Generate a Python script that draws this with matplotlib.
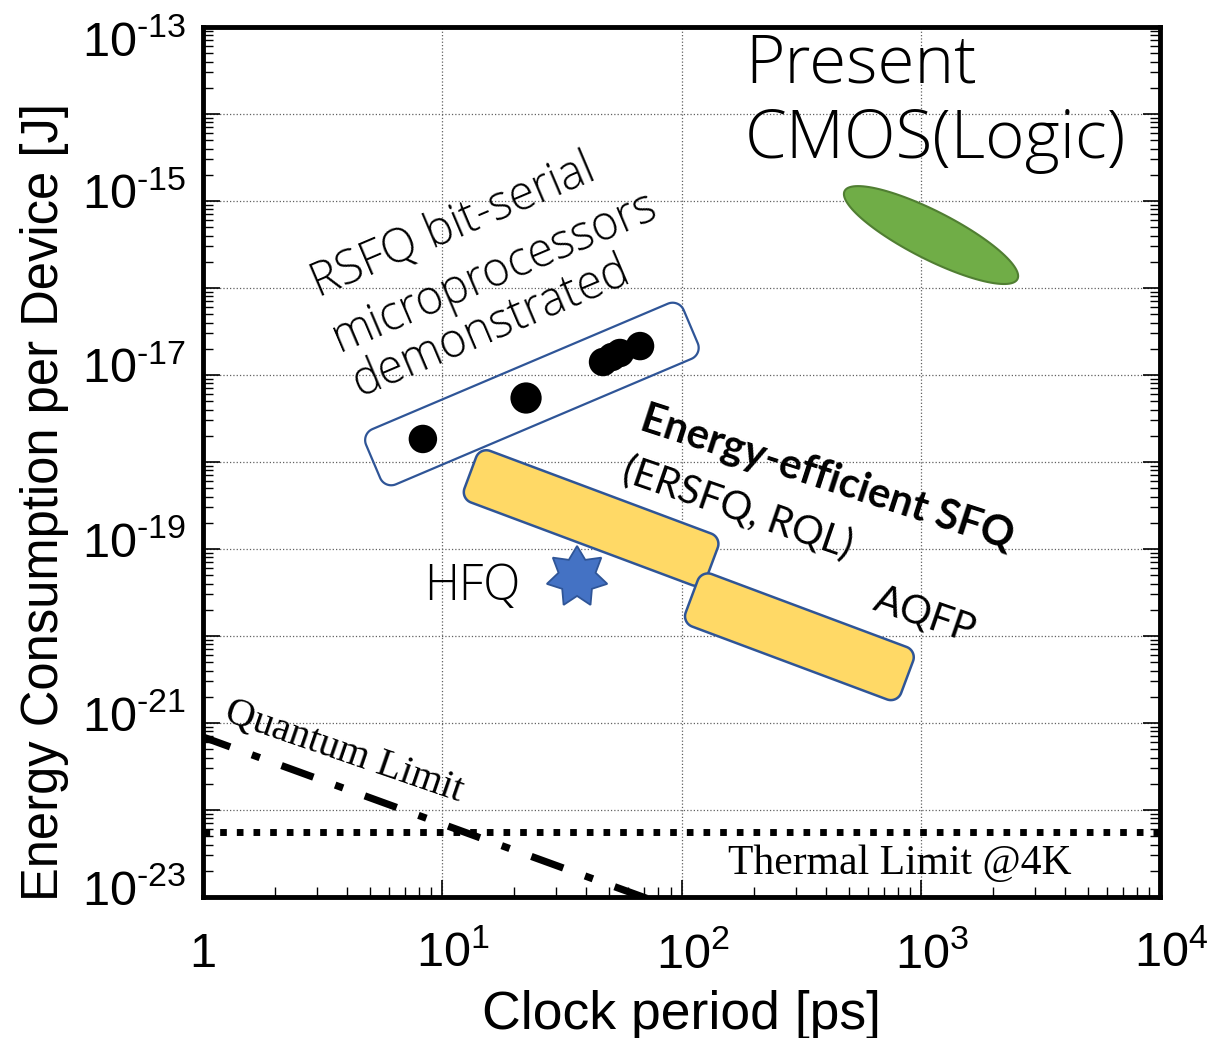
import numpy as np
import matplotlib
matplotlib.use("Agg")
import matplotlib.pyplot as plt
from matplotlib.patches import Polygon
from matplotlib.ticker import FixedLocator, LogLocator, NullFormatter, FixedFormatter
from matplotlib.transforms import ScaledTranslation

# ---------------- data ----------------
HY = "\u2010"
x_ticks = [1, 10, 100, 1000, 10000]
x_tick_labels = ["1", r"$\mathregular{10^{1}}$", r"$\mathregular{10^{2}}$",
                 r"$\mathregular{10^{3}}$", r"$\mathregular{10^{4}}$"]
y_ticks = [1e-23, 1e-22, 1e-21, 1e-20, 1e-19, 1e-18, 1e-17, 1e-16, 1e-15, 1e-14, 1e-13]
y_tick_labels = [r"$\mathregular{10^{%s23}}$" % HY, "", r"$\mathregular{10^{%s21}}$" % HY, "",
                 r"$\mathregular{10^{%s19}}$" % HY, "", r"$\mathregular{10^{%s17}}$" % HY, "",
                 r"$\mathregular{10^{%s15}}$" % HY, "", r"$\mathregular{10^{%s13}}$" % HY]

# RSFQ bit-serial microprocessors (clock period ps, energy J)
rsfq_period = [8.3, 22.4, 47.0, 51.2, 55.3, 67.1]
rsfq_energy = [1.84e-18, 5.44e-18, 1.41e-17, 1.61e-17, 1.79e-17, 2.15e-17]
rsfq_marker = [20.5, 22.5, 20.5, 20.5, 20.5, 20.5]

# HFQ
hfq_period = [36.6]
hfq_energy = [4.77e-20]

# region centres (clock period ps, energy J)
cmos_center = (1104, 4.06e-16)
rsfq_box_center = (23.7, 6.05e-18)
ersfq_box_center = (41.9, 2.27e-19)
aqfp_box_center = (311, 9.8e-21)

# annotation label lines and their anchor points (clock period ps, energy J)
rsfq_lines = ["RSFQ bit-serial", "microprocessors", "demonstrated"]
rsfq_line_period = [11.1, 16.6, 16.0]
rsfq_line_energy = [5.16e-16, 1.49e-16, 3.47e-17]

# limits
quantum_period = [1, 100]
quantum_energy = [6.9e-22, 6.9e-24]
thermal_period = [1, 10000]
thermal_energy = [5.6e-23, 5.6e-23]

# ---------------- figure ----------------
W, H = 1209, 1038
fig = plt.figure(figsize=(W / 100, H / 100), dpi=100)
plt.rcParams['mathtext.fontset'] = 'custom'
plt.rcParams['mathtext.rm'] = 'Liberation Sans'

L, R, T, B = 203, 1160, 27, 897
ax = fig.add_axes([L / W, 1 - B / H, (R - L) / W, (B - T) / H])
ax.set_xscale('log')
ax.set_yscale('log')
ax.set_xlim(1, 1e4)
ax.set_ylim(1e-23, 1e-13)

ax.xaxis.set_major_locator(FixedLocator(x_ticks))
ax.xaxis.set_major_formatter(FixedFormatter(x_tick_labels))
ax.yaxis.set_major_locator(FixedLocator(y_ticks))
ax.yaxis.set_major_formatter(FixedFormatter(y_tick_labels))
ax.xaxis.set_minor_locator(LogLocator(base=10, subs=np.arange(2, 10), numticks=100))
ax.yaxis.set_minor_locator(LogLocator(base=10, subs=np.arange(2, 10), numticks=100))
ax.xaxis.set_minor_formatter(NullFormatter())
ax.yaxis.set_minor_formatter(NullFormatter())

ax.tick_params(which='both', direction='in', top=False, right=True, color='black')
ax.tick_params(which='major', length=12, width=1.2, labelsize=35)
ax.tick_params(which='minor', length=7, width=1.0)
ax.tick_params(axis='x', which='major', pad=25)
ax.tick_params(axis='y', which='major', pad=12)
for lab in ax.get_xticklabels() + ax.get_yticklabels():
    lab.set_fontfamily('Liberation Sans')
for s in ax.spines.values():
    s.set_linewidth(3.5)

ax.grid(which='major', linestyle=':', color='#606060', linewidth=0.9)
ax.set_axisbelow(True)

ax.set_xlabel("Clock period [ps]", fontsize=38.5, family='Liberation Sans')
ax.set_ylabel("Energy Consumption per Device [J]", fontsize=36.5, family='Liberation Sans')
ax.xaxis.set_label_coords(0.5, -0.107)
ax.yaxis.set_label_coords(-0.140, 0.454)

# label offsets mimicking the reference layout
ylabs = ax.yaxis.get_majorticklabels()
for i, lab in enumerate(ylabs):
    dy = 7 if i < len(ylabs) - 1 else -8
    lab.set_transform(lab.get_transform() + ScaledTranslation(0, dy / 72, fig.dpi_scale_trans))
for i, lab in enumerate(ax.xaxis.get_majorticklabels()):
    if i > 0:
        lab.set_transform(lab.get_transform() + ScaledTranslation(8 / 72, 0, fig.dpi_scale_trans))

to_disp = ax.transData.transform
to_data = ax.transData.inverted().transform


def rounded_rect(center, length, thick, angle, r, n=14):
    cx, cy = to_disp(center)
    hw, hh = length / 2 - r, thick / 2 - r
    pts = []
    for sx, sy, a0 in [(1, 1, 0), (-1, 1, 90), (-1, -1, 180), (1, -1, 270)]:
        for t in np.radians(np.linspace(a0, a0 + 90, n)):
            pts.append((sx * hw + r * np.cos(t), sy * hh + r * np.sin(t)))
    pts = np.array(pts)
    a = np.radians(angle)
    rot = np.array([[np.cos(a), -np.sin(a)], [np.sin(a), np.cos(a)]])
    pts = pts @ rot.T + [cx, cy]
    return to_data(pts)


def ellipse_pts(center, a, b, angle, n=120):
    cx, cy = to_disp(center)
    t = np.linspace(0, 2 * np.pi, n)
    p = np.c_[a * np.cos(t), b * np.sin(t)]
    ang = np.radians(angle)
    rot = np.array([[np.cos(ang), -np.sin(ang)], [np.sin(ang), np.cos(ang)]])
    return to_data(p @ rot.T + [cx, cy])


def star_pts(center, ro, ri, npts=7):
    cx, cy = to_disp(center)
    ang = np.pi / 2 + np.arange(2 * npts) * np.pi / npts
    rad = np.where(np.arange(2 * npts) % 2 == 0, ro, ri)
    return to_data(np.c_[cx + rad * np.cos(ang), cy + rad * np.sin(ang)])


edge_blue = '#2F5597'
# CMOS ellipse
ax.add_patch(Polygon(ellipse_pts(cmos_center, 97, 24, -27), closed=True,
                     facecolor='#70AD47', edgecolor='#507E32', lw=1.5, zorder=3))
# RSFQ box
ax.add_patch(Polygon(rounded_rect(rsfq_box_center, 345, 60, 23, 12), closed=True,
                     facecolor='none', edgecolor=edge_blue, lw=1.6, zorder=3))
# star HFQ
ax.add_patch(Polygon(star_pts((hfq_period[0], hfq_energy[0]), 31, 19), closed=True,
                     facecolor='#4472C4', edgecolor=edge_blue, lw=1.3, zorder=3))
# ERSFQ box
ax.add_patch(Polygon(rounded_rect(ersfq_box_center, 258, 55, -20.5, 11), closed=True,
                     facecolor='#FFD966', edgecolor=edge_blue, lw=1.8, zorder=4))
# AQFP box
ax.add_patch(Polygon(rounded_rect(aqfp_box_center, 230, 56, -20.5, 11), closed=True,
                     facecolor='#FFD966', edgecolor=edge_blue, lw=1.8, zorder=5))

# RSFQ points
ax.scatter(rsfq_period, rsfq_energy, s=np.array(rsfq_marker) ** 2, color='black',
           zorder=6, linewidths=0)

# Limits
ax.plot(quantum_period, quantum_energy, color='black', lw=5.2,
        linestyle=(0.7, (4.7, 3.2, 1.17, 3.2)), dash_capstyle='butt', zorder=6)
ax.plot(thermal_period, thermal_energy, color='black', lw=5.0,
        linestyle=(0, (0.96, 1.44)), dash_capstyle='butt', zorder=6)

# Texts
sans = ['Open Sans', 'DejaVu Sans']
ax.text(184, 2.33e-14, "Present", fontsize=48.5, family=sans, fontweight='light',
        ha='left', va='baseline')
ax.text(184, 3.12e-15, "CMOS(Logic)", fontsize=48.5, family=sans, fontweight='light',
        ha='left', va='baseline')
for txt, px, py in zip(rsfq_lines, rsfq_line_period, rsfq_line_energy):
    ax.text(px, py, txt, fontsize=33.5, family=sans, fontweight='light',
            ha='center', va='center', rotation=23, rotation_mode='anchor')
ax.text(13.3, 3.66e-20, "HFQ", fontsize=35, family=sans, fontweight='light',
        ha='center', va='center')
ax.text(405, 6.55e-19, "Energy-efficient SFQ", fontsize=30, family='Lato',
        fontweight='bold', ha='center', va='center', rotation=-18, rotation_mode='anchor')
ax.text(172, 2.96e-19, "(ERSFQ, RQL)", fontsize=28.5, family='Lato',
        ha='center', va='center', rotation=-19, rotation_mode='anchor')
ax.text(1042, 1.74e-20, "AQFP", fontsize=28.5, family='Lato',
        ha='center', va='center', rotation=-19, rotation_mode='anchor')
ax.text(3.88, 4.64e-22, "Quantum Limit", fontsize=29, family='Liberation Serif',
        ha='center', va='center', rotation=-19, rotation_mode='anchor')
ax.text(819, 2.39e-23, "Thermal Limit @4K", fontsize=30, family='Liberation Serif',
        ha='center', va='center')

fig.savefig("out.png", dpi=100)
